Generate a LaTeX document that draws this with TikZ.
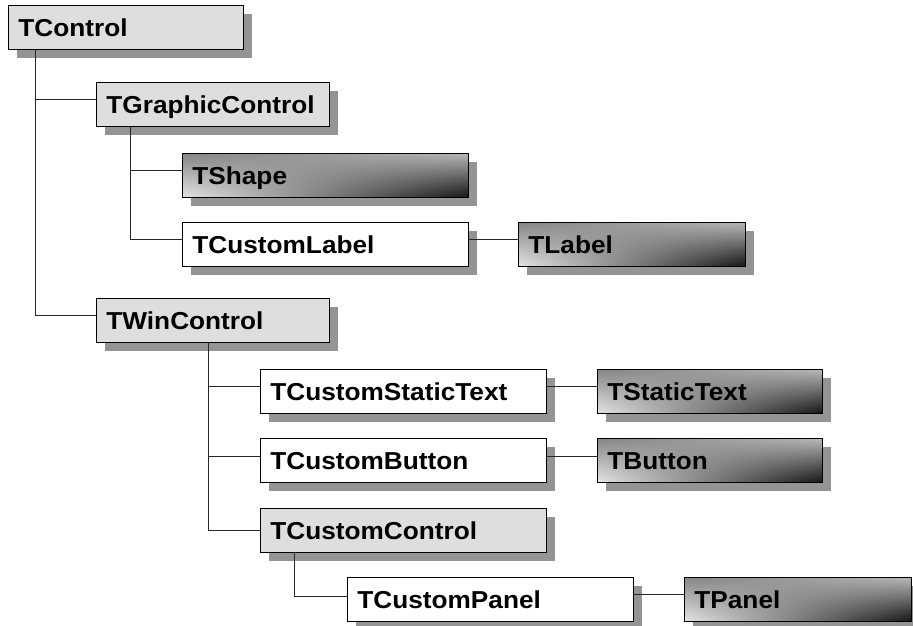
\documentclass[tikz,border=0pt]{standalone}
\usepackage{fontspec}
\setmainfont{Liberation Sans}[FakeStretch=1.07]
\usetikzlibrary{shadows,shadings}
\begin{document}
\begin{tikzpicture}[x=1pt,y=-1pt,
  cls/.style={draw=black, line width=0.8pt, anchor=north west,
    minimum height=44pt, text width=#1, inner xsep=10pt, inner ysep=0pt,
    align=left, text height=17.5pt, text depth=0pt,
    font=\fontsize{24.5}{27}\selectfont\bfseries,
    general shadow={fill=black!42, shadow xshift=9pt, shadow yshift=-9pt}},
  basecls/.style={fill=black!13},
  whitecls/.style={fill=white},
  gradcls/.style={upper left=black!48, lower left=black!10,
    upper right=black!28, lower right=black!92},
  conn/.style={draw=black!85, line width=0.8pt}]
\useasboundingbox (0,0) rectangle (913,625);

\node[cls=215pt, basecls] (tcontrol) at (8,5) {TControl};
\node[cls=213pt, basecls] (tgraphic) at (96,82) {TGraphicControl};
\node[cls=266pt, gradcls] (tshape) at (182,153) {TShape};
\node[cls=266pt, whitecls] (tcustlabel) at (182,222) {TCustomLabel};
\node[cls=207pt, gradcls] (tlabel) at (518,222) {TLabel};
\node[cls=213pt, basecls] (twin) at (96,298) {TWinControl};
\node[cls=266pt, whitecls] (tcuststatic) at (260,369) {TCustomStaticText};
\node[cls=205pt, gradcls] (tstatic) at (597,369) {TStaticText};
\node[cls=266pt, whitecls] (tcustbutton) at (260,438) {TCustomButton};
\node[cls=205pt, gradcls] (tbutton) at (597,438) {TButton};
\node[cls=266pt, basecls] (tcustcontrol) at (260,508) {TCustomControl};
\node[cls=266pt, whitecls] (tcustpanel) at (347,577) {TCustomPanel};
\node[cls=207pt, gradcls] (tpanel) at (684,577) {TPanel};

% TControl children
\draw[conn] ([xshift=27pt]tcontrol.south west) |- ([yshift=5pt]tgraphic.west);
\draw[conn] ([xshift=27pt]tcontrol.south west) |- ([yshift=5pt]twin.west);
% TGraphicControl children
\draw[conn] ([xshift=34pt]tgraphic.south west) |- ([yshift=5pt]tshape.west);
\draw[conn] ([xshift=34pt]tgraphic.south west) |- ([yshift=5pt]tcustlabel.west);
\draw[conn] ([yshift=5pt]tcustlabel.east) -- ([yshift=5pt]tlabel.west);
% TWinControl children
\draw[conn] ([xshift=112pt]twin.south west) |- ([yshift=5pt]tcuststatic.west);
\draw[conn] ([xshift=112pt]twin.south west) |- ([yshift=4pt]tcustbutton.west);
\draw[conn] ([xshift=112pt]twin.south west) |- ([yshift=0pt]tcustcontrol.west);
\draw[conn] ([yshift=5pt]tcuststatic.east) -- ([yshift=5pt]tstatic.west);
\draw[conn] ([yshift=4pt]tcustbutton.east) -- ([yshift=4pt]tbutton.west);
% TCustomControl children
\draw[conn] ([xshift=34pt]tcustcontrol.south west) |- ([yshift=3pt]tcustpanel.west);
\draw[conn] ([yshift=5pt]tcustpanel.east) -- ([yshift=5pt]tpanel.west);
\end{tikzpicture}
\end{document}
